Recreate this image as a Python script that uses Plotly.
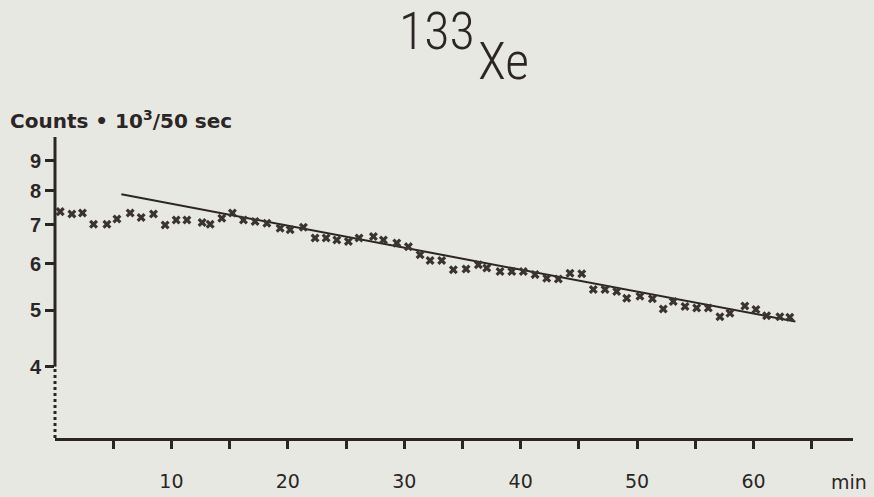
import math
import plotly.graph_objects as go

# Measured data (time in minutes, counts in 10^3 per 50 sec)
time_min = [0.45, 1.45, 2.36, 3.31, 4.46, 5.32, 6.46, 7.40, 8.46, 9.46,
            10.41, 11.33, 12.64, 13.33, 14.33, 15.24, 16.19, 17.19, 18.20, 19.34,
            20.20, 21.34, 22.34, 23.29, 24.21, 25.20, 26.12, 27.35, 28.21, 29.36,
            30.36, 31.36, 32.22, 33.22, 34.22, 35.31, 36.37, 37.09, 38.23, 39.24,
            40.23, 41.24, 42.24, 43.24, 44.24, 45.25, 46.24, 47.25, 48.25, 49.11,
            50.25, 51.32, 52.25, 53.11, 54.12, 55.12, 56.12, 57.12, 57.98, 59.26,
            60.21, 61.13, 62.27, 63.12]
counts = [7.37, 7.30, 7.33, 7.01, 7.01, 7.16, 7.33, 7.20, 7.30, 6.99,
          7.13, 7.13, 7.06, 7.01, 7.18, 7.33, 7.13, 7.09, 7.04, 6.90,
          6.86, 6.93, 6.64, 6.64, 6.59, 6.55, 6.64, 6.68, 6.59, 6.51,
          6.42, 6.22, 6.08, 6.08, 5.86, 5.88, 5.98, 5.90, 5.82, 5.82,
          5.82, 5.75, 5.67, 5.65, 5.78, 5.77, 5.42, 5.42, 5.38, 5.24,
          5.28, 5.23, 5.02, 5.17, 5.07, 5.04, 5.04, 4.87, 4.94, 5.08,
          5.01, 4.89, 4.87, 4.86]

# Fitted exponential (straight line on log scale)
fit_time = [5.7, 63.6]
fit_counts = [7.89, 4.78]

x_tick_vals = [10, 20, 30, 40, 50, 60]
x_tick_text = ["10", "20", "30", "40", "50", "60"]
y_tick_vals = [4, 5, 6, 7, 8, 9]
y_tick_text = ["4", "5", "6", "7", "8", "9"]

X_RANGE = [0, 68.55]
Y_MIN, Y_BREAK, Y_MAX = 3.02, 4.0, 9.89

BG = "#e8e8e3"
INK = "#2b2625"
SANS = "Liberation Sans, Arial, sans-serif"
WIDE = "DejaVu Sans, Verdana, sans-serif"
NARROW = "Liberation Sans Narrow, Roboto Condensed, Roboto, sans-serif"

fig = go.Figure()

fig.add_trace(go.Scatter(
    x=fit_time, y=fit_counts, mode="lines",
    line=dict(color=INK, width=2), hoverinfo="skip", showlegend=False))

fig.add_trace(go.Scatter(
    x=time_min, y=counts, mode="markers",
    marker=dict(symbol="x", size=8, color="#3a3331"),
    showlegend=False))

# y-axis line: solid above 4, dotted (broken) below
fig.add_shape(type="line", xref="paper", yref="y", x0=0, x1=0,
              y0=Y_BREAK, y1=Y_MAX, line=dict(color=INK, width=3))
fig.add_shape(type="line", xref="paper", yref="y", x0=0, x1=0,
              y0=Y_MIN, y1=Y_BREAK, line=dict(color=INK, width=3, dash="dot"))

fig.update_xaxes(
    range=X_RANGE, showgrid=False, zeroline=False, automargin=False,
    showline=True, linecolor=INK, linewidth=2.5,
    tickmode="array", tickvals=x_tick_vals, ticktext=x_tick_text,
    ticks="outside", ticklen=8, tickwidth=2.5, tickcolor=INK,
    minor=dict(ticks="outside", ticklen=8, tickwidth=2.5, tickcolor=INK,
               tick0=5, dtick=10, showgrid=False),
    ticklabelstandoff=16,
    tickfont=dict(family=WIDE, size=19, color=INK))

fig.update_yaxes(
    type="log", range=[math.log10(Y_MIN), math.log10(Y_MAX)],
    showgrid=False, zeroline=False, showline=False, automargin=False,
    tickmode="array", tickvals=y_tick_vals, ticktext=y_tick_text,
    ticks="outside", ticklen=9, tickwidth=3, tickcolor=INK,
    tickfont=dict(family=SANS, size=20, color=INK, weight="bold"))

annos = [
    dict(text="133", x=0.479, y=1.352, font=dict(size=52, family=NARROW, color=INK, weight=300)),
    dict(text="Xe", x=0.562, y=1.252, font=dict(size=52, family=NARROW, color=INK, weight=300)),
    dict(text="Counts • 10<sup>3</sup>/50 sec", x=-0.0589, y=1.056, xanchor="left",
         font=dict(size=20, family=WIDE, color=INK, weight="bold")),
    dict(text="min", x=0.995, y=-0.146, font=dict(size=19, family=WIDE, color=INK)),
]
for a in annos:
    a.setdefault("xanchor", "center")
    fig.add_annotation(xref="paper", yref="paper", showarrow=False, yanchor="middle", **a)

fig.update_layout(
    width=874, height=497,
    margin=dict(l=55, r=21, t=137, b=59),
    paper_bgcolor=BG, plot_bgcolor=BG,
    showlegend=False)

fig.write_html("out.html", config={"displayModeBar": False},
               post_script="document.body.style.margin='0';document.body.style.background='%s';" % BG)
